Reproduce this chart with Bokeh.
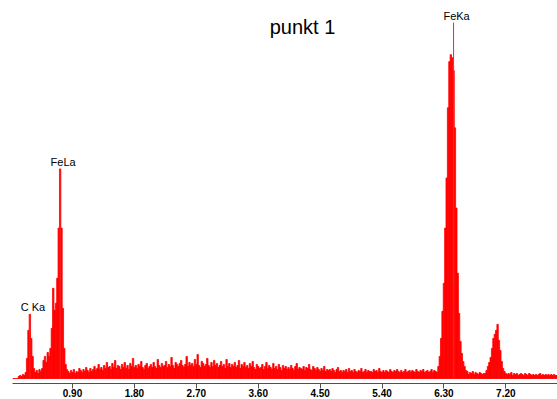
from bokeh.plotting import figure
from bokeh.models import Range1d, FixedTicker, NumeralTickFormatter, ColumnDataSource, Label
from bokeh.core.properties import value
from bokeh.embed import file_html
from bokeh.resources import INLINE

# EDS spectrum, 0.02 keV channels starting at 0.04 keV (counts in arbitrary units)
channel_start = 0.04
channel_width = 0.02
counts = [
    0, 0, 0, 0, 2, 3, 2, 4, 3, 6,            # 0.04-0.22
    20, 48, 64, 40, 22, 10, 6, 8, 5, 9,      # 0.24-0.42
    7, 10, 18, 22, 16, 26, 22, 30, 50, 90,   # 0.44-0.62
    68, 75, 100, 150, 209, 150, 70, 30, 14, 9,  # 0.64-0.82
    7, 5, 8, 6, 9, 5, 7, 6, 10, 8,           # 0.84-1.02
    6, 9, 7, 11, 8, 6, 10, 7, 9, 12,         # 1.04-1.22
    8, 10, 14, 9, 11, 8, 13, 10, 16, 11,     # 1.24-1.42
    12, 9, 15, 11, 18, 10, 13, 12, 9, 14,    # 1.44-1.62
    11, 16, 10, 13, 9, 15, 12, 20, 11, 13,   # 1.64-1.82
    10, 14, 12, 17, 11, 9, 13, 15, 10, 12,   # 1.84-2.02
    14, 11, 16, 12, 10, 19, 13, 11, 15, 12,  # 2.04-2.22
    13, 17, 11, 14, 12, 21, 13, 10, 16, 14,  # 2.24-2.42
    12, 15, 18, 13, 11, 14, 22, 12, 16, 13,  # 2.44-2.62
    15, 12, 19, 14, 24, 13, 11, 17, 15, 12,  # 2.64-2.82
    14, 20, 13, 11, 16, 12, 18, 13, 15, 11,  # 2.84-3.02
    13, 17, 12, 14, 10, 19, 12, 15, 11, 14,  # 3.04-3.22
    12, 16, 11, 13, 18, 10, 14, 12, 16, 11,  # 3.24-3.42
    13, 10, 15, 12, 17, 11, 9, 14, 12, 10,   # 3.44-3.62
    11, 14, 9, 12, 16, 10, 13, 11, 9, 15,    # 3.64-3.82
    10, 12, 9, 14, 11, 8, 13, 10, 12, 9,     # 3.84-4.02
    11, 9, 13, 10, 8, 12, 15, 9, 11, 10,     # 4.04-4.22
    9, 12, 8, 11, 10, 14, 9, 8, 12, 10,      # 4.24-4.42
    8, 11, 9, 7, 10, 8, 12, 7, 9, 8,         # 4.44-4.62
    9, 7, 10, 8, 6, 9, 11, 7, 8, 6,          # 4.64-4.82
    8, 7, 9, 6, 10, 7, 8, 6, 9, 7,           # 4.84-5.02
    6, 8, 7, 10, 6, 7, 9, 6, 8, 7,           # 5.04-5.22
    7, 6, 9, 7, 8, 6, 10, 7, 6, 8,           # 5.24-5.42
    6, 8, 7, 6, 9, 7, 6, 8, 7, 9,            # 5.44-5.62
    7, 6, 8, 6, 7, 9, 6, 7, 8, 6,            # 5.64-5.82
    8, 7, 6, 9, 7, 6, 8, 7, 9, 6,            # 5.84-6.02
    7, 8, 6, 7, 9, 6, 8, 7, 6, 12,           # 6.04-6.22
    22, 40, 67, 95, 150, 200, 270, 316, 323, 320,  # 6.24-6.42
    307, 250, 170, 105, 65, 37, 25, 17, 12, 8,     # 6.44-6.62
    7, 4, 6, 5, 7, 4, 6, 5, 4, 6,            # 6.64-6.82
    5, 4, 5, 5, 8, 12, 16, 21, 30, 40,       # 6.84-7.02
    44, 48, 54, 38, 28, 17, 10, 7, 5, 4,     # 7.04-7.22
    5, 4, 6, 3, 5, 4, 5, 3, 4, 5,            # 7.24-7.42
    4, 3, 5, 4, 3, 5, 4, 3, 4, 3,            # 7.44-7.62
    4, 3, 4, 5, 3, 4, 3, 4, 3, 4,            # 7.64-7.82
    3, 4, 3, 4, 3, 3,                        # 7.84-7.94
]
energy = [round(channel_start + channel_width * i, 2) for i in range(len(counts))]

# peak identification markers
peak_names = ["C Ka", "FeLa", "FeKa"]
peak_energy = [0.28, 0.72, 6.44]
peak_marker_height = [64, 209, 355]

tick_values = [0.90, 1.80, 2.70, 3.60, 4.50, 5.40, 6.30, 7.20]
title_text = "punkt 1"

p = figure(width=557, height=399, output_backend="svg", toolbar_location=None,
           x_range=Range1d(0.0276, 7.951), y_range=Range1d(-5, 377),
           min_border_left=12, min_border_right=0, min_border_top=0, min_border_bottom=0)
p.outline_line_color = None
p.grid.visible = False
p.yaxis.visible = False
p.background_fill_color = "white"
p.border_fill_color = "white"

src = ColumnDataSource(dict(e=energy, c=counts))
p.vbar(x="e", top="c", bottom=0, width=channel_width, source=src,
       fill_color="#ff0000", line_color="#ff0000", line_width=0.8)

msrc = ColumnDataSource(dict(e=peak_energy, h=peak_marker_height, name=peak_names))
p.segment(x0="e", y0=0, x1="e", y1="h", source=msrc, line_color="#ff2020", line_width=1)
p.text(x="e", y="h", text="name", source=msrc, text_align="center",
       text_baseline="alphabetic", x_offset=3, y_offset=-7,
       text_font=value("Liberation Sans"), text_font_size="11px", text_color="black")

p.add_layout(Label(x=4.244, y=351, text=title_text, text_align="center",
                   text_baseline="alphabetic", text_font="Liberation Sans",
                   text_font_size="20px", text_color="black"))

ax = p.xaxis[0]
ax.ticker = FixedTicker(ticks=tick_values)
ax.formatter = NumeralTickFormatter(format="0.00")
ax.axis_line_color = "#505050"
ax.major_tick_line_color = "#505050"
ax.major_tick_out = 5
ax.major_tick_in = 0
ax.minor_tick_line_color = None
ax.major_label_text_font = "Liberation Sans"
ax.major_label_text_font_style = "bold"
ax.major_label_text_font_size = "10px"
ax.major_label_text_color = "black"
ax.major_label_standoff = 0

open("out.html", "w").write(file_html(p, INLINE))
